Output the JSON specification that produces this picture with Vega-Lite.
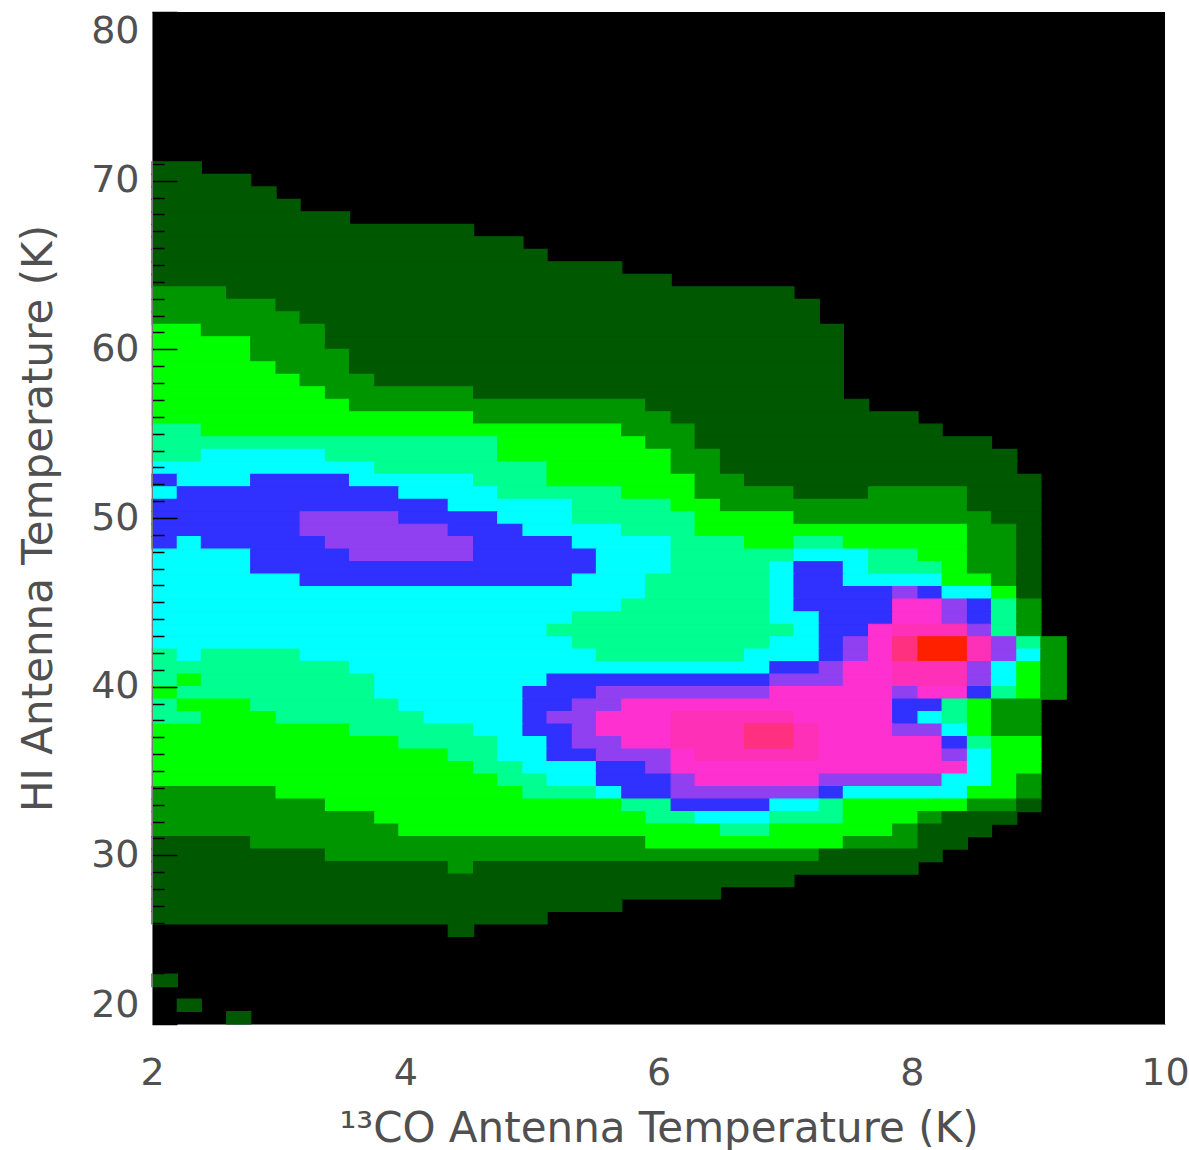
{"$schema":"https://vega.github.io/schema/vega-lite/v6.json","width":1013,"height":1012,"autosize":"none","padding":{"left":152,"top":12,"right":24,"bottom":126},"background":"#ffffff","view":{"fill":"#000000","stroke":null},
"data":{"values":[
{"x":2,"x2":2.39,"y":70.37,"y2":71.11,"v":1},
{"x":2,"x2":2.78,"y":69.63,"y2":70.37,"v":1},
{"x":2,"x2":2.98,"y":68.89,"y2":69.63,"v":1},
{"x":2,"x2":3.17,"y":68.15,"y2":68.89,"v":1},
{"x":2,"x2":3.56,"y":67.41,"y2":68.15,"v":1},
{"x":2,"x2":4.54,"y":66.67,"y2":67.41,"v":1},
{"x":2,"x2":4.93,"y":65.93,"y2":66.67,"v":1},
{"x":2,"x2":5.12,"y":65.19,"y2":65.93,"v":1},
{"x":2,"x2":5.71,"y":64.44,"y2":65.19,"v":1},
{"x":2,"x2":6.1,"y":63.7,"y2":64.44,"v":1},
{"x":2,"x2":2.59,"y":62.96,"y2":63.7,"v":2},{"x":2.59,"x2":7.07,"y":62.96,"y2":63.7,"v":1},
{"x":2,"x2":2.98,"y":62.22,"y2":62.96,"v":2},{"x":2.98,"x2":7.27,"y":62.22,"y2":62.96,"v":1},
{"x":2,"x2":3.17,"y":61.48,"y2":62.22,"v":2},{"x":3.17,"x2":7.27,"y":61.48,"y2":62.22,"v":1},
{"x":2,"x2":2.39,"y":60.74,"y2":61.48,"v":3},{"x":2.39,"x2":3.37,"y":60.74,"y2":61.48,"v":2},{"x":3.37,"x2":7.46,"y":60.74,"y2":61.48,"v":1},
{"x":2,"x2":2.78,"y":60,"y2":60.74,"v":3},{"x":2.78,"x2":3.37,"y":60,"y2":60.74,"v":2},{"x":3.37,"x2":7.46,"y":60,"y2":60.74,"v":1},
{"x":2,"x2":2.78,"y":59.26,"y2":60,"v":3},{"x":2.78,"x2":3.56,"y":59.26,"y2":60,"v":2},{"x":3.56,"x2":7.46,"y":59.26,"y2":60,"v":1},
{"x":2,"x2":2.98,"y":58.52,"y2":59.26,"v":3},{"x":2.98,"x2":3.56,"y":58.52,"y2":59.26,"v":2},{"x":3.56,"x2":7.46,"y":58.52,"y2":59.26,"v":1},
{"x":2,"x2":3.17,"y":57.78,"y2":58.52,"v":3},{"x":3.17,"x2":3.76,"y":57.78,"y2":58.52,"v":2},{"x":3.76,"x2":7.46,"y":57.78,"y2":58.52,"v":1},
{"x":2,"x2":3.37,"y":57.04,"y2":57.78,"v":3},{"x":3.37,"x2":4.54,"y":57.04,"y2":57.78,"v":2},{"x":4.54,"x2":7.46,"y":57.04,"y2":57.78,"v":1},
{"x":2,"x2":3.56,"y":56.3,"y2":57.04,"v":3},{"x":3.56,"x2":5.9,"y":56.3,"y2":57.04,"v":2},{"x":5.9,"x2":7.66,"y":56.3,"y2":57.04,"v":1},
{"x":2,"x2":4.54,"y":55.56,"y2":56.3,"v":3},{"x":4.54,"x2":6.1,"y":55.56,"y2":56.3,"v":2},{"x":6.1,"x2":8.05,"y":55.56,"y2":56.3,"v":1},
{"x":2,"x2":2.39,"y":54.81,"y2":55.56,"v":4},{"x":2.39,"x2":5.71,"y":54.81,"y2":55.56,"v":3},{"x":5.71,"x2":6.29,"y":54.81,"y2":55.56,"v":2},{"x":6.29,"x2":8.24,"y":54.81,"y2":55.56,"v":1},
{"x":2,"x2":4.73,"y":54.07,"y2":54.81,"v":4},{"x":4.73,"x2":5.9,"y":54.07,"y2":54.81,"v":3},{"x":5.9,"x2":6.29,"y":54.07,"y2":54.81,"v":2},{"x":6.29,"x2":8.63,"y":54.07,"y2":54.81,"v":1},
{"x":2,"x2":2.39,"y":53.33,"y2":54.07,"v":4},{"x":2.39,"x2":3.37,"y":53.33,"y2":54.07,"v":5},{"x":3.37,"x2":4.73,"y":53.33,"y2":54.07,"v":4},{"x":4.73,"x2":6.1,"y":53.33,"y2":54.07,"v":3},{"x":6.1,"x2":6.49,"y":53.33,"y2":54.07,"v":2},{"x":6.49,"x2":8.83,"y":53.33,"y2":54.07,"v":1},
{"x":2,"x2":3.76,"y":52.59,"y2":53.33,"v":5},{"x":3.76,"x2":5.12,"y":52.59,"y2":53.33,"v":4},{"x":5.12,"x2":6.1,"y":52.59,"y2":53.33,"v":3},{"x":6.1,"x2":6.49,"y":52.59,"y2":53.33,"v":2},{"x":6.49,"x2":8.83,"y":52.59,"y2":53.33,"v":1},
{"x":2,"x2":2.2,"y":51.85,"y2":52.59,"v":6},{"x":2.2,"x2":2.78,"y":51.85,"y2":52.59,"v":5},{"x":2.78,"x2":3.56,"y":51.85,"y2":52.59,"v":6},{"x":3.56,"x2":4.54,"y":51.85,"y2":52.59,"v":5},{"x":4.54,"x2":5.12,"y":51.85,"y2":52.59,"v":4},{"x":5.12,"x2":6.29,"y":51.85,"y2":52.59,"v":3},{"x":6.29,"x2":6.68,"y":51.85,"y2":52.59,"v":2},{"x":6.68,"x2":9.02,"y":51.85,"y2":52.59,"v":1},
{"x":2,"x2":2.2,"y":51.11,"y2":51.85,"v":5},{"x":2.2,"x2":3.95,"y":51.11,"y2":51.85,"v":6},{"x":3.95,"x2":4.73,"y":51.11,"y2":51.85,"v":5},{"x":4.73,"x2":5.71,"y":51.11,"y2":51.85,"v":4},{"x":5.71,"x2":6.29,"y":51.11,"y2":51.85,"v":3},{"x":6.29,"x2":7.07,"y":51.11,"y2":51.85,"v":2},{"x":7.07,"x2":7.66,"y":51.11,"y2":51.85,"v":1},{"x":7.66,"x2":8.44,"y":51.11,"y2":51.85,"v":2},{"x":8.44,"x2":9.02,"y":51.11,"y2":51.85,"v":1},
{"x":2,"x2":4.34,"y":50.37,"y2":51.11,"v":6},{"x":4.34,"x2":5.32,"y":50.37,"y2":51.11,"v":5},{"x":5.32,"x2":6.1,"y":50.37,"y2":51.11,"v":4},{"x":6.1,"x2":6.49,"y":50.37,"y2":51.11,"v":3},{"x":6.49,"x2":8.44,"y":50.37,"y2":51.11,"v":2},{"x":8.44,"x2":9.02,"y":50.37,"y2":51.11,"v":1},
{"x":2,"x2":3.17,"y":49.63,"y2":50.37,"v":6},{"x":3.17,"x2":3.95,"y":49.63,"y2":50.37,"v":7},{"x":3.95,"x2":4.73,"y":49.63,"y2":50.37,"v":6},{"x":4.73,"x2":5.32,"y":49.63,"y2":50.37,"v":5},{"x":5.32,"x2":6.29,"y":49.63,"y2":50.37,"v":4},{"x":6.29,"x2":7.07,"y":49.63,"y2":50.37,"v":3},{"x":7.07,"x2":8.63,"y":49.63,"y2":50.37,"v":2},{"x":8.63,"x2":9.02,"y":49.63,"y2":50.37,"v":1},
{"x":2,"x2":3.17,"y":48.89,"y2":49.63,"v":6},{"x":3.17,"x2":4.34,"y":48.89,"y2":49.63,"v":7},{"x":4.34,"x2":4.93,"y":48.89,"y2":49.63,"v":6},{"x":4.93,"x2":5.71,"y":48.89,"y2":49.63,"v":5},{"x":5.71,"x2":6.29,"y":48.89,"y2":49.63,"v":4},{"x":6.29,"x2":8.44,"y":48.89,"y2":49.63,"v":3},{"x":8.44,"x2":8.83,"y":48.89,"y2":49.63,"v":2},{"x":8.83,"x2":9.02,"y":48.89,"y2":49.63,"v":1},
{"x":2,"x2":2.2,"y":48.15,"y2":48.89,"v":6},{"x":2.2,"x2":2.39,"y":48.15,"y2":48.89,"v":5},{"x":2.39,"x2":3.37,"y":48.15,"y2":48.89,"v":6},{"x":3.37,"x2":4.54,"y":48.15,"y2":48.89,"v":7},{"x":4.54,"x2":5.32,"y":48.15,"y2":48.89,"v":6},{"x":5.32,"x2":6.1,"y":48.15,"y2":48.89,"v":5},{"x":6.1,"x2":6.68,"y":48.15,"y2":48.89,"v":4},{"x":6.68,"x2":7.07,"y":48.15,"y2":48.89,"v":3},{"x":7.07,"x2":7.46,"y":48.15,"y2":48.89,"v":4},{"x":7.46,"x2":8.44,"y":48.15,"y2":48.89,"v":3},{"x":8.44,"x2":8.83,"y":48.15,"y2":48.89,"v":2},{"x":8.83,"x2":9.02,"y":48.15,"y2":48.89,"v":1},
{"x":2,"x2":2.78,"y":47.41,"y2":48.15,"v":5},{"x":2.78,"x2":3.56,"y":47.41,"y2":48.15,"v":6},{"x":3.56,"x2":4.54,"y":47.41,"y2":48.15,"v":7},{"x":4.54,"x2":5.51,"y":47.41,"y2":48.15,"v":6},{"x":5.51,"x2":6.1,"y":47.41,"y2":48.15,"v":5},{"x":6.1,"x2":7.07,"y":47.41,"y2":48.15,"v":4},{"x":7.07,"x2":7.66,"y":47.41,"y2":48.15,"v":5},{"x":7.66,"x2":8.05,"y":47.41,"y2":48.15,"v":4},{"x":8.05,"x2":8.44,"y":47.41,"y2":48.15,"v":3},{"x":8.44,"x2":8.83,"y":47.41,"y2":48.15,"v":2},{"x":8.83,"x2":9.02,"y":47.41,"y2":48.15,"v":1},
{"x":2,"x2":2.78,"y":46.67,"y2":47.41,"v":5},{"x":2.78,"x2":5.51,"y":46.67,"y2":47.41,"v":6},{"x":5.51,"x2":6.1,"y":46.67,"y2":47.41,"v":5},{"x":6.1,"x2":6.88,"y":46.67,"y2":47.41,"v":4},{"x":6.88,"x2":7.07,"y":46.67,"y2":47.41,"v":5},{"x":7.07,"x2":7.46,"y":46.67,"y2":47.41,"v":6},{"x":7.46,"x2":7.66,"y":46.67,"y2":47.41,"v":5},{"x":7.66,"x2":8.24,"y":46.67,"y2":47.41,"v":4},{"x":8.24,"x2":8.44,"y":46.67,"y2":47.41,"v":3},{"x":8.44,"x2":8.83,"y":46.67,"y2":47.41,"v":2},{"x":8.83,"x2":9.02,"y":46.67,"y2":47.41,"v":1},
{"x":2,"x2":3.17,"y":45.93,"y2":46.67,"v":5},{"x":3.17,"x2":5.32,"y":45.93,"y2":46.67,"v":6},{"x":5.32,"x2":5.9,"y":45.93,"y2":46.67,"v":5},{"x":5.9,"x2":6.88,"y":45.93,"y2":46.67,"v":4},{"x":6.88,"x2":7.07,"y":45.93,"y2":46.67,"v":5},{"x":7.07,"x2":7.46,"y":45.93,"y2":46.67,"v":6},{"x":7.46,"x2":8.24,"y":45.93,"y2":46.67,"v":5},{"x":8.24,"x2":8.63,"y":45.93,"y2":46.67,"v":3},{"x":8.63,"x2":8.83,"y":45.93,"y2":46.67,"v":2},{"x":8.83,"x2":9.02,"y":45.93,"y2":46.67,"v":1},
{"x":2,"x2":5.9,"y":45.19,"y2":45.93,"v":5},{"x":5.9,"x2":6.88,"y":45.19,"y2":45.93,"v":4},{"x":6.88,"x2":7.07,"y":45.19,"y2":45.93,"v":5},{"x":7.07,"x2":7.85,"y":45.19,"y2":45.93,"v":6},{"x":7.85,"x2":8.05,"y":45.19,"y2":45.93,"v":7},{"x":8.05,"x2":8.24,"y":45.19,"y2":45.93,"v":6},{"x":8.24,"x2":8.63,"y":45.19,"y2":45.93,"v":5},{"x":8.63,"x2":8.83,"y":45.19,"y2":45.93,"v":3},{"x":8.83,"x2":9.02,"y":45.19,"y2":45.93,"v":1},
{"x":2,"x2":5.71,"y":44.44,"y2":45.19,"v":5},{"x":5.71,"x2":6.88,"y":44.44,"y2":45.19,"v":4},{"x":6.88,"x2":7.07,"y":44.44,"y2":45.19,"v":5},{"x":7.07,"x2":7.85,"y":44.44,"y2":45.19,"v":6},{"x":7.85,"x2":8.24,"y":44.44,"y2":45.19,"v":8},{"x":8.24,"x2":8.44,"y":44.44,"y2":45.19,"v":7},{"x":8.44,"x2":8.63,"y":44.44,"y2":45.19,"v":6},{"x":8.63,"x2":8.83,"y":44.44,"y2":45.19,"v":4},{"x":8.83,"x2":9.02,"y":44.44,"y2":45.19,"v":2},
{"x":2,"x2":5.32,"y":43.7,"y2":44.44,"v":5},{"x":5.32,"x2":6.88,"y":43.7,"y2":44.44,"v":4},{"x":6.88,"x2":7.27,"y":43.7,"y2":44.44,"v":5},{"x":7.27,"x2":7.85,"y":43.7,"y2":44.44,"v":6},{"x":7.85,"x2":8.24,"y":43.7,"y2":44.44,"v":8},{"x":8.24,"x2":8.44,"y":43.7,"y2":44.44,"v":7},{"x":8.44,"x2":8.63,"y":43.7,"y2":44.44,"v":6},{"x":8.63,"x2":8.83,"y":43.7,"y2":44.44,"v":4},{"x":8.83,"x2":9.02,"y":43.7,"y2":44.44,"v":2},
{"x":2,"x2":5.12,"y":42.96,"y2":43.7,"v":5},{"x":5.12,"x2":7.07,"y":42.96,"y2":43.7,"v":4},{"x":7.07,"x2":7.27,"y":42.96,"y2":43.7,"v":5},{"x":7.27,"x2":7.66,"y":42.96,"y2":43.7,"v":6},{"x":7.66,"x2":7.85,"y":42.96,"y2":43.7,"v":8},{"x":7.85,"x2":8.44,"y":42.96,"y2":43.7,"v":9},{"x":8.44,"x2":8.63,"y":42.96,"y2":43.7,"v":7},{"x":8.63,"x2":8.83,"y":42.96,"y2":43.7,"v":4},{"x":8.83,"x2":9.02,"y":42.96,"y2":43.7,"v":2},
{"x":2,"x2":5.32,"y":42.22,"y2":42.96,"v":5},{"x":5.32,"x2":6.88,"y":42.22,"y2":42.96,"v":4},{"x":6.88,"x2":7.27,"y":42.22,"y2":42.96,"v":5},{"x":7.27,"x2":7.46,"y":42.22,"y2":42.96,"v":6},{"x":7.46,"x2":7.66,"y":42.22,"y2":42.96,"v":7},{"x":7.66,"x2":7.85,"y":42.22,"y2":42.96,"v":8},{"x":7.85,"x2":8.05,"y":42.22,"y2":42.96,"v":10},{"x":8.05,"x2":8.44,"y":42.22,"y2":42.96,"v":11},{"x":8.44,"x2":8.63,"y":42.22,"y2":42.96,"v":9},{"x":8.63,"x2":8.83,"y":42.22,"y2":42.96,"v":7},{"x":8.83,"x2":9.02,"y":42.22,"y2":42.96,"v":4},{"x":9.02,"x2":9.22,"y":42.22,"y2":42.96,"v":2},
{"x":2,"x2":2.2,"y":41.48,"y2":42.22,"v":4},{"x":2.2,"x2":2.39,"y":41.48,"y2":42.22,"v":5},{"x":2.39,"x2":3.17,"y":41.48,"y2":42.22,"v":4},{"x":3.17,"x2":5.51,"y":41.48,"y2":42.22,"v":5},{"x":5.51,"x2":6.68,"y":41.48,"y2":42.22,"v":4},{"x":6.68,"x2":7.27,"y":41.48,"y2":42.22,"v":5},{"x":7.27,"x2":7.46,"y":41.48,"y2":42.22,"v":6},{"x":7.46,"x2":7.66,"y":41.48,"y2":42.22,"v":7},{"x":7.66,"x2":7.85,"y":41.48,"y2":42.22,"v":8},{"x":7.85,"x2":8.05,"y":41.48,"y2":42.22,"v":10},{"x":8.05,"x2":8.44,"y":41.48,"y2":42.22,"v":11},{"x":8.44,"x2":8.63,"y":41.48,"y2":42.22,"v":9},{"x":8.63,"x2":8.83,"y":41.48,"y2":42.22,"v":7},{"x":8.83,"x2":9.02,"y":41.48,"y2":42.22,"v":5},{"x":9.02,"x2":9.22,"y":41.48,"y2":42.22,"v":2},
{"x":2,"x2":3.56,"y":40.74,"y2":41.48,"v":4},{"x":3.56,"x2":6.88,"y":40.74,"y2":41.48,"v":5},{"x":6.88,"x2":7.27,"y":40.74,"y2":41.48,"v":6},{"x":7.27,"x2":7.46,"y":40.74,"y2":41.48,"v":7},{"x":7.46,"x2":7.85,"y":40.74,"y2":41.48,"v":8},{"x":7.85,"x2":8.44,"y":40.74,"y2":41.48,"v":9},{"x":8.44,"x2":8.63,"y":40.74,"y2":41.48,"v":7},{"x":8.63,"x2":8.83,"y":40.74,"y2":41.48,"v":5},{"x":8.83,"x2":9.02,"y":40.74,"y2":41.48,"v":3},{"x":9.02,"x2":9.22,"y":40.74,"y2":41.48,"v":2},
{"x":2,"x2":2.2,"y":40,"y2":40.74,"v":4},{"x":2.2,"x2":2.39,"y":40,"y2":40.74,"v":3},{"x":2.39,"x2":3.76,"y":40,"y2":40.74,"v":4},{"x":3.76,"x2":5.12,"y":40,"y2":40.74,"v":5},{"x":5.12,"x2":6.88,"y":40,"y2":40.74,"v":6},{"x":6.88,"x2":7.46,"y":40,"y2":40.74,"v":7},{"x":7.46,"x2":7.85,"y":40,"y2":40.74,"v":8},{"x":7.85,"x2":8.44,"y":40,"y2":40.74,"v":9},{"x":8.44,"x2":8.63,"y":40,"y2":40.74,"v":7},{"x":8.63,"x2":8.83,"y":40,"y2":40.74,"v":5},{"x":8.83,"x2":9.02,"y":40,"y2":40.74,"v":3},{"x":9.02,"x2":9.22,"y":40,"y2":40.74,"v":2},
{"x":2,"x2":2.2,"y":39.26,"y2":40,"v":3},{"x":2.2,"x2":3.76,"y":39.26,"y2":40,"v":4},{"x":3.76,"x2":4.93,"y":39.26,"y2":40,"v":5},{"x":4.93,"x2":5.51,"y":39.26,"y2":40,"v":6},{"x":5.51,"x2":6.88,"y":39.26,"y2":40,"v":7},{"x":6.88,"x2":7.85,"y":39.26,"y2":40,"v":8},{"x":7.85,"x2":8.05,"y":39.26,"y2":40,"v":7},{"x":8.05,"x2":8.44,"y":39.26,"y2":40,"v":8},{"x":8.44,"x2":8.63,"y":39.26,"y2":40,"v":6},{"x":8.63,"x2":8.83,"y":39.26,"y2":40,"v":4},{"x":8.83,"x2":9.02,"y":39.26,"y2":40,"v":3},{"x":9.02,"x2":9.22,"y":39.26,"y2":40,"v":2},
{"x":2,"x2":2.2,"y":38.52,"y2":39.26,"v":4},{"x":2.2,"x2":2.78,"y":38.52,"y2":39.26,"v":3},{"x":2.78,"x2":3.95,"y":38.52,"y2":39.26,"v":4},{"x":3.95,"x2":4.93,"y":38.52,"y2":39.26,"v":5},{"x":4.93,"x2":5.32,"y":38.52,"y2":39.26,"v":6},{"x":5.32,"x2":5.71,"y":38.52,"y2":39.26,"v":7},{"x":5.71,"x2":7.85,"y":38.52,"y2":39.26,"v":8},{"x":7.85,"x2":8.24,"y":38.52,"y2":39.26,"v":6},{"x":8.24,"x2":8.44,"y":38.52,"y2":39.26,"v":4},{"x":8.44,"x2":8.63,"y":38.52,"y2":39.26,"v":3},{"x":8.63,"x2":9.02,"y":38.52,"y2":39.26,"v":2},
{"x":2,"x2":2.39,"y":37.78,"y2":38.52,"v":4},{"x":2.39,"x2":2.98,"y":37.78,"y2":38.52,"v":3},{"x":2.98,"x2":4.15,"y":37.78,"y2":38.52,"v":4},{"x":4.15,"x2":4.93,"y":37.78,"y2":38.52,"v":5},{"x":4.93,"x2":5.12,"y":37.78,"y2":38.52,"v":6},{"x":5.12,"x2":5.51,"y":37.78,"y2":38.52,"v":7},{"x":5.51,"x2":6.1,"y":37.78,"y2":38.52,"v":8},{"x":6.1,"x2":7.07,"y":37.78,"y2":38.52,"v":9},{"x":7.07,"x2":7.85,"y":37.78,"y2":38.52,"v":8},{"x":7.85,"x2":8.05,"y":37.78,"y2":38.52,"v":6},{"x":8.05,"x2":8.24,"y":37.78,"y2":38.52,"v":5},{"x":8.24,"x2":8.44,"y":37.78,"y2":38.52,"v":4},{"x":8.44,"x2":8.63,"y":37.78,"y2":38.52,"v":3},{"x":8.63,"x2":9.02,"y":37.78,"y2":38.52,"v":2},
{"x":2,"x2":3.56,"y":37.04,"y2":37.78,"v":3},{"x":3.56,"x2":4.54,"y":37.04,"y2":37.78,"v":4},{"x":4.54,"x2":4.93,"y":37.04,"y2":37.78,"v":5},{"x":4.93,"x2":5.32,"y":37.04,"y2":37.78,"v":6},{"x":5.32,"x2":5.51,"y":37.04,"y2":37.78,"v":7},{"x":5.51,"x2":6.1,"y":37.04,"y2":37.78,"v":8},{"x":6.1,"x2":6.68,"y":37.04,"y2":37.78,"v":9},{"x":6.68,"x2":7.07,"y":37.04,"y2":37.78,"v":10},{"x":7.07,"x2":7.27,"y":37.04,"y2":37.78,"v":9},{"x":7.27,"x2":7.85,"y":37.04,"y2":37.78,"v":8},{"x":7.85,"x2":8.24,"y":37.04,"y2":37.78,"v":7},{"x":8.24,"x2":8.44,"y":37.04,"y2":37.78,"v":5},{"x":8.44,"x2":8.63,"y":37.04,"y2":37.78,"v":3},{"x":8.63,"x2":9.02,"y":37.04,"y2":37.78,"v":2},
{"x":2,"x2":3.95,"y":36.3,"y2":37.04,"v":3},{"x":3.95,"x2":4.73,"y":36.3,"y2":37.04,"v":4},{"x":4.73,"x2":5.12,"y":36.3,"y2":37.04,"v":5},{"x":5.12,"x2":5.32,"y":36.3,"y2":37.04,"v":6},{"x":5.32,"x2":5.71,"y":36.3,"y2":37.04,"v":7},{"x":5.71,"x2":6.1,"y":36.3,"y2":37.04,"v":8},{"x":6.1,"x2":6.68,"y":36.3,"y2":37.04,"v":9},{"x":6.68,"x2":7.07,"y":36.3,"y2":37.04,"v":10},{"x":7.07,"x2":7.27,"y":36.3,"y2":37.04,"v":9},{"x":7.27,"x2":8.24,"y":36.3,"y2":37.04,"v":8},{"x":8.24,"x2":8.44,"y":36.3,"y2":37.04,"v":6},{"x":8.44,"x2":8.63,"y":36.3,"y2":37.04,"v":4},{"x":8.63,"x2":9.02,"y":36.3,"y2":37.04,"v":3},
{"x":2,"x2":4.34,"y":35.56,"y2":36.3,"v":3},{"x":4.34,"x2":4.73,"y":35.56,"y2":36.3,"v":4},{"x":4.73,"x2":5.12,"y":35.56,"y2":36.3,"v":5},{"x":5.12,"x2":5.51,"y":35.56,"y2":36.3,"v":6},{"x":5.51,"x2":6.1,"y":35.56,"y2":36.3,"v":7},{"x":6.1,"x2":6.29,"y":35.56,"y2":36.3,"v":8},{"x":6.29,"x2":7.27,"y":35.56,"y2":36.3,"v":9},{"x":7.27,"x2":8.24,"y":35.56,"y2":36.3,"v":8},{"x":8.24,"x2":8.44,"y":35.56,"y2":36.3,"v":7},{"x":8.44,"x2":8.63,"y":35.56,"y2":36.3,"v":5},{"x":8.63,"x2":9.02,"y":35.56,"y2":36.3,"v":3},
{"x":2,"x2":4.54,"y":34.81,"y2":35.56,"v":3},{"x":4.54,"x2":4.93,"y":34.81,"y2":35.56,"v":4},{"x":4.93,"x2":5.51,"y":34.81,"y2":35.56,"v":5},{"x":5.51,"x2":5.9,"y":34.81,"y2":35.56,"v":6},{"x":5.9,"x2":6.1,"y":34.81,"y2":35.56,"v":7},{"x":6.1,"x2":8.44,"y":34.81,"y2":35.56,"v":8},{"x":8.44,"x2":8.63,"y":34.81,"y2":35.56,"v":5},{"x":8.63,"x2":9.02,"y":34.81,"y2":35.56,"v":3},
{"x":2,"x2":4.73,"y":34.07,"y2":34.81,"v":3},{"x":4.73,"x2":5.12,"y":34.07,"y2":34.81,"v":4},{"x":5.12,"x2":5.51,"y":34.07,"y2":34.81,"v":5},{"x":5.51,"x2":6.1,"y":34.07,"y2":34.81,"v":6},{"x":6.1,"x2":6.29,"y":34.07,"y2":34.81,"v":7},{"x":6.29,"x2":7.27,"y":34.07,"y2":34.81,"v":8},{"x":7.27,"x2":8.24,"y":34.07,"y2":34.81,"v":7},{"x":8.24,"x2":8.63,"y":34.07,"y2":34.81,"v":5},{"x":8.63,"x2":8.83,"y":34.07,"y2":34.81,"v":3},{"x":8.83,"x2":9.02,"y":34.07,"y2":34.81,"v":2},
{"x":2,"x2":2.98,"y":33.33,"y2":34.07,"v":2},{"x":2.98,"x2":4.93,"y":33.33,"y2":34.07,"v":3},{"x":4.93,"x2":5.51,"y":33.33,"y2":34.07,"v":4},{"x":5.51,"x2":5.71,"y":33.33,"y2":34.07,"v":5},{"x":5.71,"x2":6.1,"y":33.33,"y2":34.07,"v":6},{"x":6.1,"x2":7.27,"y":33.33,"y2":34.07,"v":7},{"x":7.27,"x2":7.46,"y":33.33,"y2":34.07,"v":6},{"x":7.46,"x2":8.44,"y":33.33,"y2":34.07,"v":5},{"x":8.44,"x2":8.83,"y":33.33,"y2":34.07,"v":3},{"x":8.83,"x2":9.02,"y":33.33,"y2":34.07,"v":2},
{"x":2,"x2":3.37,"y":32.59,"y2":33.33,"v":2},{"x":3.37,"x2":5.71,"y":32.59,"y2":33.33,"v":3},{"x":5.71,"x2":6.1,"y":32.59,"y2":33.33,"v":4},{"x":6.1,"x2":6.88,"y":32.59,"y2":33.33,"v":6},{"x":6.88,"x2":7.27,"y":32.59,"y2":33.33,"v":5},{"x":7.27,"x2":7.46,"y":32.59,"y2":33.33,"v":4},{"x":7.46,"x2":8.44,"y":32.59,"y2":33.33,"v":3},{"x":8.44,"x2":8.83,"y":32.59,"y2":33.33,"v":2},{"x":8.83,"x2":9.02,"y":32.59,"y2":33.33,"v":1},
{"x":2,"x2":3.76,"y":31.85,"y2":32.59,"v":2},{"x":3.76,"x2":5.9,"y":31.85,"y2":32.59,"v":3},{"x":5.9,"x2":6.29,"y":31.85,"y2":32.59,"v":4},{"x":6.29,"x2":6.88,"y":31.85,"y2":32.59,"v":5},{"x":6.88,"x2":7.46,"y":31.85,"y2":32.59,"v":4},{"x":7.46,"x2":8.05,"y":31.85,"y2":32.59,"v":3},{"x":8.05,"x2":8.24,"y":31.85,"y2":32.59,"v":2},{"x":8.24,"x2":8.83,"y":31.85,"y2":32.59,"v":1},
{"x":2,"x2":3.95,"y":31.11,"y2":31.85,"v":2},{"x":3.95,"x2":6.49,"y":31.11,"y2":31.85,"v":3},{"x":6.49,"x2":6.88,"y":31.11,"y2":31.85,"v":4},{"x":6.88,"x2":7.85,"y":31.11,"y2":31.85,"v":3},{"x":7.85,"x2":8.05,"y":31.11,"y2":31.85,"v":2},{"x":8.05,"x2":8.63,"y":31.11,"y2":31.85,"v":1},
{"x":2,"x2":2.78,"y":30.37,"y2":31.11,"v":1},{"x":2.78,"x2":5.9,"y":30.37,"y2":31.11,"v":2},{"x":5.9,"x2":7.46,"y":30.37,"y2":31.11,"v":3},{"x":7.46,"x2":8.05,"y":30.37,"y2":31.11,"v":2},{"x":8.05,"x2":8.44,"y":30.37,"y2":31.11,"v":1},
{"x":2,"x2":3.37,"y":29.63,"y2":30.37,"v":1},{"x":3.37,"x2":7.27,"y":29.63,"y2":30.37,"v":2},{"x":7.27,"x2":8.24,"y":29.63,"y2":30.37,"v":1},
{"x":2,"x2":4.34,"y":28.89,"y2":29.63,"v":1},{"x":4.34,"x2":4.54,"y":28.89,"y2":29.63,"v":2},{"x":4.54,"x2":8.05,"y":28.89,"y2":29.63,"v":1},
{"x":2,"x2":7.07,"y":28.15,"y2":28.89,"v":1},
{"x":2,"x2":6.49,"y":27.41,"y2":28.15,"v":1},
{"x":2,"x2":5.71,"y":26.67,"y2":27.41,"v":1},
{"x":2,"x2":5.12,"y":25.93,"y2":26.67,"v":1},
{"x":4.34,"x2":4.54,"y":25.19,"y2":25.93,"v":1},
{"x":2,"x2":2.2,"y":22.22,"y2":22.96,"v":1},
{"x":2.2,"x2":2.39,"y":20.74,"y2":21.48,"v":1},
{"x":2.59,"x2":2.78,"y":20,"y2":20.74,"v":1}
]},
"mark":{"type":"rect","strokeWidth":1.2},
"encoding":{
"x":{"field":"x","type":"quantitative","scale":{"domain":[2,10],"nice":false,"zero":false},"axis":{"values":[2,4,6,8,10],"format":"d","grid":false,"ticks":false,"labelFlush":false,"labelFont":"DejaVu Sans","labelFontSize":38,"labelColor":"#505050","labelPadding":30,"labelAngle":0,"domainColor":"#777777","title":"¹³CO Antenna Temperature (K)","titleFont":"DejaVu Sans","titleFontSize":42,"titleFontWeight":"normal","titleColor":"#505050","titlePadding":16}},
"x2":{"field":"x2"},
"y":{"field":"y","type":"quantitative","scale":{"domain":[20,80],"nice":false,"zero":false},"axis":{"values":[20,21,22,23,24,25,26,27,28,29,30,31,32,33,34,35,36,37,38,39,40,41,42,43,44,45,46,47,48,49,50,51,52,53,54,55,56,57,58,59,60,61,62,63,64,65,66,67,68,69,70,71,72,73,74,75,76,77,78,79,80],"labelExpr":"datum.value % 10 === 0 ? datum.label : ''","format":"d","grid":false,"zindex":1,"tickColor":"#000000","tickWidth":1.5,"tickSize":{"condition":{"test":"datum.value % 10 === 0","value":-25},"value":-12},"labelFlush":true,"labelOverlap":false,"labelFont":"DejaVu Sans","labelFontSize":38,"labelColor":"#505050","labelPadding":38,"domainColor":"#777777","title":"HI Antenna Temperature (K)","titleFont":"DejaVu Sans","titleFontSize":42,"titleFontWeight":"normal","titleColor":"#505050","titlePadding":30}},
"y2":{"field":"y2"},
"color":{"field":"v","type":"ordinal","legend":null,"scale":{"domain":[1,2,3,4,5,6,7,8,9,10,11],"range":["#005800","#009600","#00ff00","#00ff90","#00ffff","#3030ff","#9040f0","#ff30d0","#ff30b8","#ff3080","#ff2000"]}},
"stroke":{"field":"v","type":"ordinal","legend":null,"scale":{"domain":[1,2,3,4,5,6,7,8,9,10,11],"range":["#005800","#009600","#00ff00","#00ff90","#00ffff","#3030ff","#9040f0","#ff30d0","#ff30b8","#ff3080","#ff2000"]}}
}}
